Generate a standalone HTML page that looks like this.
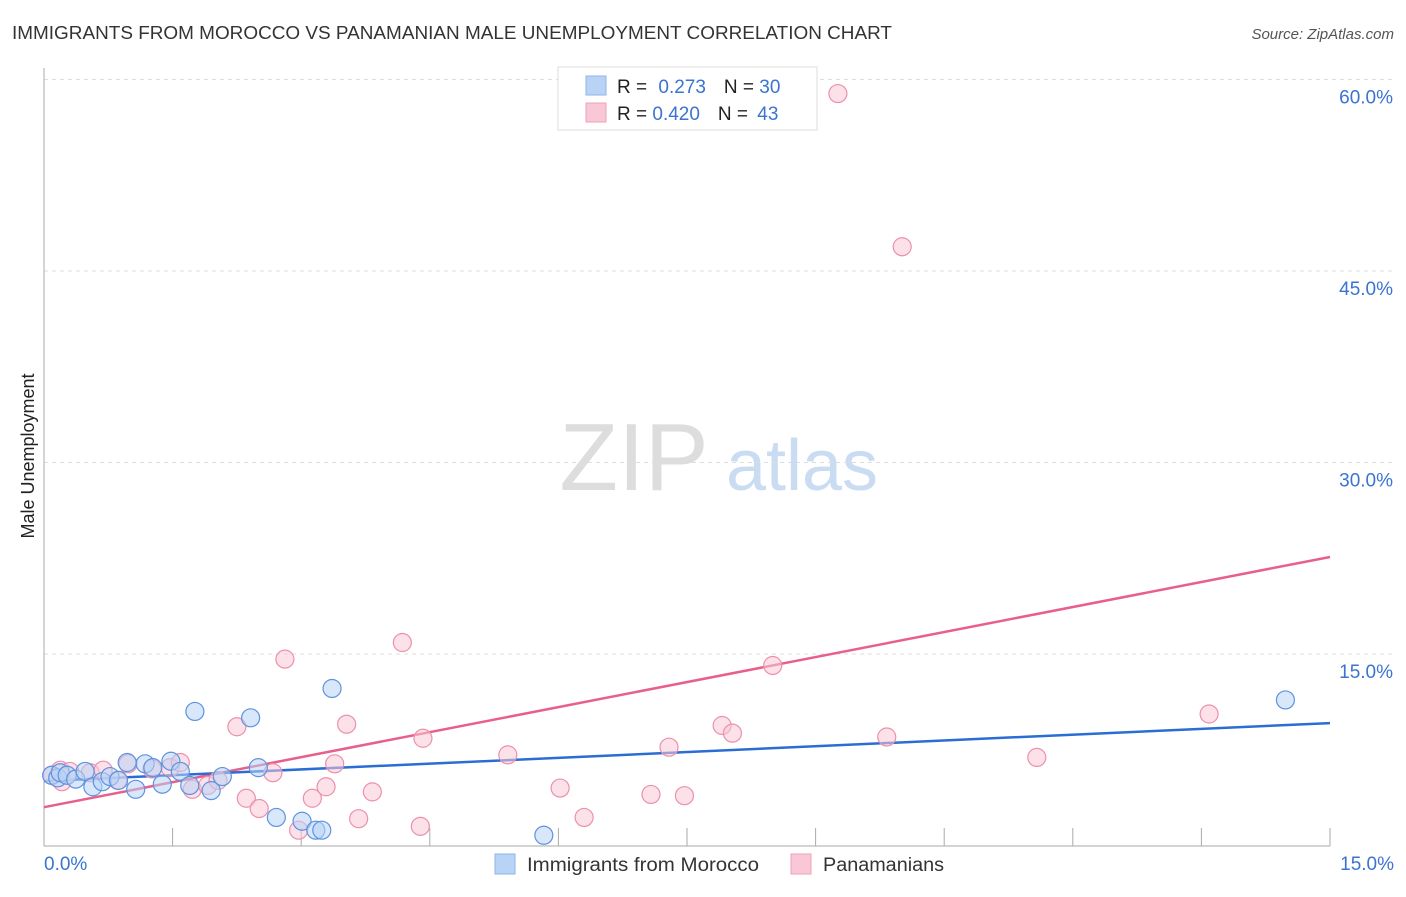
<!DOCTYPE html>
<html><head><meta charset="utf-8"><style>
body{margin:0;background:#fff;font-family:"Liberation Sans",sans-serif;}
svg text{font-family:"Liberation Sans",sans-serif;}
</style></head><body>
<svg width="1406" height="892" viewBox="0 0 1406 892">
<text x="12" y="39" font-size="18" fill="#333" textLength="880" lengthAdjust="spacingAndGlyphs">IMMIGRANTS FROM MOROCCO VS PANAMANIAN MALE UNEMPLOYMENT CORRELATION CHART</text>
<text x="1394" y="39" font-size="15" fill="#555" text-anchor="end" font-style="italic">Source: ZipAtlas.com</text>
<g>
<text x="634" y="490" font-size="96" fill="#ddd" font-family="Liberation Serif" text-anchor="middle">ZIP</text>
<text x="802" y="490" font-size="72" fill="#c9dcf2" text-anchor="middle">atlas</text>
</g>
<text transform="translate(34,456) rotate(-90)" font-size="18" fill="#222" text-anchor="middle">Male Unemployment</text>
<g id="grid"></g>
<g id="axes"></g>
<g id="lines"></g>
<g id="points"></g>
<g>
<rect x="558" y="67" width="259" height="63" fill="#fff" stroke="#ddd"/>
<rect x="586" y="76" width="20" height="19" fill="#b8d3f5" stroke="#8fb5e8"/>
<rect x="586" y="103" width="20" height="19" fill="#f9c8d6" stroke="#f0a0b8"/>
<text x="617" y="93" font-size="19" fill="#222">R = <tspan fill="#3a74d0" dx="6">0.273</tspan><tspan fill="#222" dx="18">N = </tspan><tspan fill="#3a74d0">30</tspan></text>
<text x="617" y="120" font-size="19" fill="#222">R = <tspan fill="#3a74d0">0.420</tspan><tspan fill="#222" dx="18">N = </tspan><tspan fill="#3a74d0" dx="4">43</tspan></text>
</g>
<g>
<rect x="495" y="854" width="20" height="20" fill="#b8d3f5" stroke="#8fb5e8"/>
<text x="527" y="871" font-size="19" fill="#333" textLength="232" lengthAdjust="spacingAndGlyphs">Immigrants from Morocco</text>
<rect x="791" y="854" width="20" height="20" fill="#f9c8d6" stroke="#f0a0b8"/>
<text x="823" y="871" font-size="19" fill="#333" textLength="121" lengthAdjust="spacingAndGlyphs">Panamanians</text>
</g>
</svg>
<script>
const yTicks=[15,30,45,60];
const yTickLabels=["15.0%","30.0%","45.0%","60.0%"];
const xTickLabels=["0.0%","15.0%"];
const blueX=[0.09,0.16,0.19,0.27,0.37,0.48,0.57,0.68,0.77,0.87,0.97,1.07,1.18,1.27,1.38,1.48,1.59,1.70,1.76,1.95,2.08,2.41,2.50,2.71,3.01,3.17,3.24,3.36,5.83,14.48];
const blueY=[5.5,5.3,5.7,5.5,5.2,5.8,4.6,5.0,5.4,5.1,6.5,4.4,6.4,6.1,4.8,6.6,5.8,4.7,10.5,4.3,5.4,10.0,6.1,2.2,1.9,1.2,1.2,12.3,0.8,11.4];
const pinkX=[0.09,0.19,0.21,0.30,0.54,0.69,0.86,0.98,1.26,1.47,1.59,1.73,1.91,2.03,2.25,2.36,2.51,2.67,2.81,2.97,3.13,3.29,3.39,3.53,3.67,3.83,4.18,4.39,4.42,5.41,6.02,6.30,7.08,7.29,7.47,7.91,8.03,8.50,9.26,9.83,10.01,11.58,13.59];
const pinkY=[5.5,5.9,5.0,5.8,5.7,5.9,5.1,6.4,6.0,6.1,6.5,4.4,4.7,5.1,9.3,3.7,2.9,5.7,14.6,1.2,3.7,4.6,6.4,9.5,2.1,4.2,15.9,1.5,8.4,7.1,4.5,2.2,4.0,7.7,3.9,9.4,8.8,14.1,58.9,8.5,46.9,6.9,10.3];
const blueLine=[5.05,9.59];
const pinkLine=[3.0,22.6];
const X0=44,X1=1330,Y0=845.5,PXY=191.5/15;
const sx=v=>X0+(X1-X0)*v/15, sy=v=>Y0-v*PXY;
const NS="http://www.w3.org/2000/svg";
function mk(t,a,p){const e=document.createElementNS(NS,t);for(const k in a)e.setAttribute(k,a[k]);document.getElementById(p).appendChild(e);return e;}
yTicks.forEach((t,i)=>{
 const g=mk('line',{x1:X0,x2:1394,y1:sy(t),y2:sy(t),stroke:'#ddd','stroke-dasharray':'4,4'},'grid');
 
 
 const l=mk('text',{x:1393,y:sy(t)+24,'font-size':19,fill:'#3a74d0','text-anchor':'end'},'grid');
 l.textContent=yTickLabels[i];
 
 
});
const ax=mk('line',{x1:X0,x2:X0,y1:68,y2:846,stroke:'#aaa'},'axes');


const bx=mk('line',{x1:X0,x2:X1,y1:846,y2:846,stroke:'#aaa'},'axes');


for(let i=1;i<=10;i++){const t=mk('line',{x1:sx(i*1.5),x2:sx(i*1.5),y1:828,y2:846,stroke:'#aaa'},'axes');
 
 }
[[0,'start',44],[15,'end',1394]].forEach((d,i)=>{const t=mk('text',{x:d[2],y:870,'font-size':19,fill:'#3a74d0','text-anchor':d[1]},'axes');t.textContent=xTickLabels[i];
 
 });
function pts(xs,ys,fill,stroke,name){xs.forEach((x,i)=>{const c=mk('circle',{cx:sx(x),cy:sy(ys[i]),r:9,fill:fill,'fill-opacity':0.55,stroke:stroke,'stroke-width':1.2},'points');
 
 });}
pts(pinkX,pinkY,'#f9c8d6','#ec90ad','point-panamanians');
pts(blueX,blueY,'#b8d3f5','#5d93e0','point-morocco');
const pl=mk('line',{x1:sx(0),y1:sy(pinkLine[0]),x2:sx(15),y2:sy(pinkLine[1]),stroke:'#e8608a','stroke-width':2.5},'lines');


const bl=mk('line',{x1:sx(0),y1:sy(blueLine[0]),x2:sx(15),y2:sy(blueLine[1]),stroke:'#2a6dd4','stroke-width':2.5},'lines');


</script>
</body></html>
